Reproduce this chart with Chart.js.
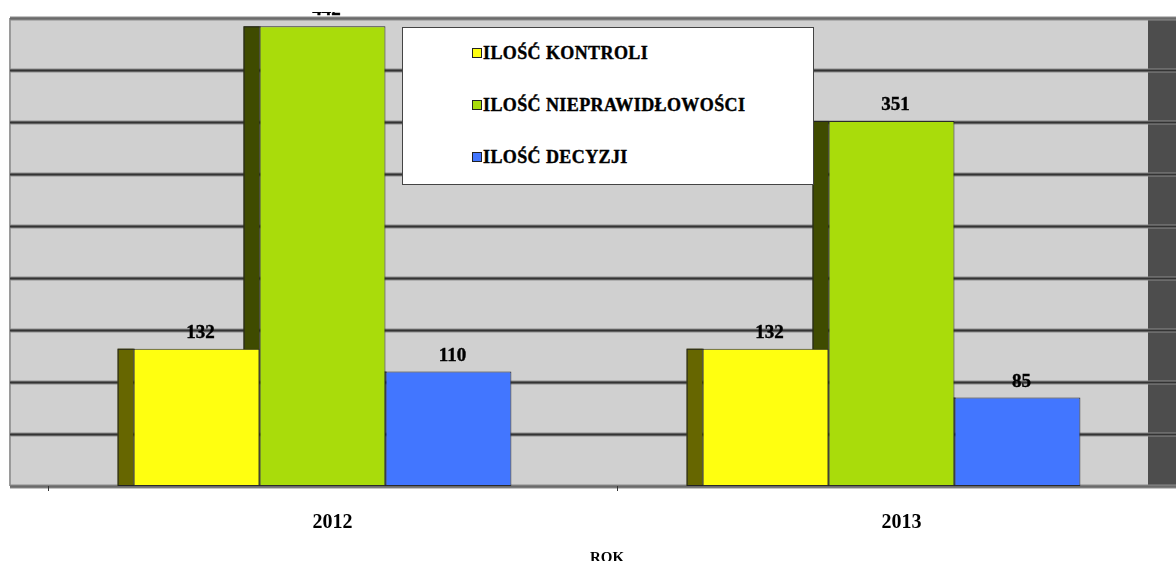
<!DOCTYPE html>
<html>
<head>
<meta charset="utf-8">
<script src="https://cdn.jsdelivr.net/npm/chart.js@4"></script>
<style>
  html, body { margin: 0; padding: 0; background: #fff; }
  #wrap { position: relative; width: 1176px; height: 561px; }
  #legend {
    position: absolute; left: 402px; top: 27px; width: 410px; height: 156px;
    background: #fff; border: 1px solid #444;
    font: bold 18px 'Liberation Serif', 'Times New Roman', serif;
    letter-spacing: 0.4px;
    -webkit-text-stroke: 0.4px #000;
    color: #000;
  }
  #legend div { position: absolute; left: 69px; white-space: nowrap; }
  #legend span.box {
    display: inline-block; width: 8px; height: 8px; border: 1px solid #222;
    margin-right: 1px; vertical-align: 1px; -webkit-text-stroke: 0;
  }
</style>
</head>
<body>
<div id="wrap">
  <canvas id="chart" width="1176" height="561"></canvas>
  <div id="legend"></div>
</div>
<script>
// ── data
const years       = ['2012', '2013'];
const kontrole    = [132, 132];
const nieprawidl  = [442, 351];
const decyzje     = [110, 85];
const seriesNames = ['ILOŚĆ KONTROLI', 'ILOŚĆ NIEPRAWIDŁOWOŚCI', 'ILOŚĆ DECYZJI'];

// ── colours
const FRONT = ['#ffff10', '#a9dc0b', '#4276ff'];
const SIDE  = ['#666600', '#3f4b00', '#1a2e66'];
const DEPTH = 16;   // visible side face width
const SHIFT = 28;   // back wall offset to the left

const FONT = "'Liberation Serif', 'Times New Roman', serif";

// ── plugin: grey wall, grid, side faces
const wallPlugin = {
  id: 'wall',
  beforeDatasetsDraw(chart) {
    const { ctx, chartArea: ca, scales: { x, y } } = chart;
    const left = ca.left - SHIFT, right = ca.right - SHIFT;
    ctx.save();
    ctx.fillStyle = '#d0d0d0';
    ctx.fillRect(left, ca.top, right - left, ca.bottom - ca.top);
    ctx.fillStyle = '#4d4d4d';
    ctx.fillRect(right, ca.top, ca.right - right, ca.bottom - ca.top);
    ctx.strokeStyle = '#9a9a9a';
    ctx.lineWidth = 2;
    ctx.beginPath();
    ctx.moveTo(left, ca.top); ctx.lineTo(left, ca.bottom);
    ctx.stroke();

    // horizontal grid
    y.ticks.forEach(t => {
      const py = Math.round(y.getPixelForValue(t.value)) + 0.5;
      const edge = t.value === y.min || t.value === y.max;
      ctx.strokeStyle = '#8c8c8c';
      ctx.lineWidth = 4;
      ctx.beginPath(); ctx.moveTo(left, py); ctx.lineTo(ca.right, py); ctx.stroke();
      ctx.strokeStyle = edge ? '#6a6a6a' : '#333';
      ctx.lineWidth = 2;
      ctx.beginPath(); ctx.moveTo(left, py); ctx.lineTo(ca.right, py); ctx.stroke();
    });

    // small tick marks under axis
    const cw = x.getPixelForValue(1) - x.getPixelForValue(0);
    ctx.strokeStyle = '#333';
    ctx.lineWidth = 1;
    years.forEach((_, i) => {
      const px = Math.round(x.getPixelForValue(i) - cw / 2 + 10) + 0.5;
      ctx.beginPath(); ctx.moveTo(px, ca.bottom); ctx.lineTo(px, ca.bottom + 5); ctx.stroke();
    });

    // side faces of the bars
    chart.data.datasets.forEach((ds, di) => {
      chart.getDatasetMeta(di).data.forEach(bar => {
        const x0 = bar.x - bar.width / 2 - DEPTH;
        ctx.fillStyle = SIDE[di];
        ctx.fillRect(x0, bar.y, DEPTH, bar.base - bar.y);
        ctx.strokeStyle = '#222';
        ctx.lineWidth = 1;
        ctx.strokeRect(x0 + 0.5, bar.y + 0.5, DEPTH, bar.base - bar.y - 1);
      });
    });
    ctx.restore();
  },
  afterDatasetsDraw(chart) {
    const { ctx, chartArea: ca } = chart;
    ctx.save();
    ctx.beginPath();
    ctx.rect(0, ca.top - 6, chart.width, chart.height);
    ctx.clip();
    ctx.fillStyle = '#000';
    ctx.strokeStyle = '#000';
    ctx.lineWidth = 0.4;
    ctx.font = 'bold 19px ' + FONT;
    ctx.textAlign = 'center';
    ctx.textBaseline = 'alphabetic';
    chart.data.datasets.forEach((ds, di) => {
      chart.getDatasetMeta(di).data.forEach((bar, i) => {
        ctx.fillText(ds.data[i], bar.x + 4, bar.y - 11);
        ctx.strokeText(ds.data[i], bar.x + 4, bar.y - 11);
      });
    });
    ctx.restore();
  },
};

const chart = new Chart(document.getElementById('chart'), {
  type: 'bar',
  data: {
    labels: years,
    datasets: [kontrole, nieprawidl, decyzje].map((d, i) => ({
      label: seriesNames[i],
      data: d,
      backgroundColor: FRONT[i],
      borderColor: '#2a2a2a',
      borderWidth: 1,
      borderSkipped: false,
      barPercentage: 1,
      categoryPercentage: 0.664,
    })),
  },
  options: {
    responsive: false,
    animation: false,
    layout: { padding: { left: 38, top: 18, right: 0, bottom: 0 } },
    plugins: { legend: { display: false }, tooltip: { enabled: false } },
    scales: {
      y: {
        display: false,
        min: 0, max: 450,
        ticks: { stepSize: 50 },
      },
      x: {
        grid: { display: false },
        border: { display: false },
        ticks: {
          color: '#000',
          font: { family: FONT, size: 20, weight: 'bold' },
          padding: 17,
          labelOffset: 10,
        },
        title: {
          display: true,
          text: 'ROK',
          color: '#000',
          font: { family: FONT, size: 15, weight: 'bold', lineHeight: 1 },
          padding: { top: 0, bottom: -5 },
        },
        afterFit(scale) { scale.height = 75; },
      },
    },
  },
  plugins: [wallPlugin],
});

// ── legend as html text
const legend = document.getElementById('legend');
seriesNames.forEach((name, i) => {
  const row = document.createElement('div');
  row.style.top = (15 + i * 52) + 'px';
  row.innerHTML = '<span class="box" style="background:' + FRONT[i] + '"></span>' + name;
  legend.appendChild(row);
});
</script>
</body>
</html>
